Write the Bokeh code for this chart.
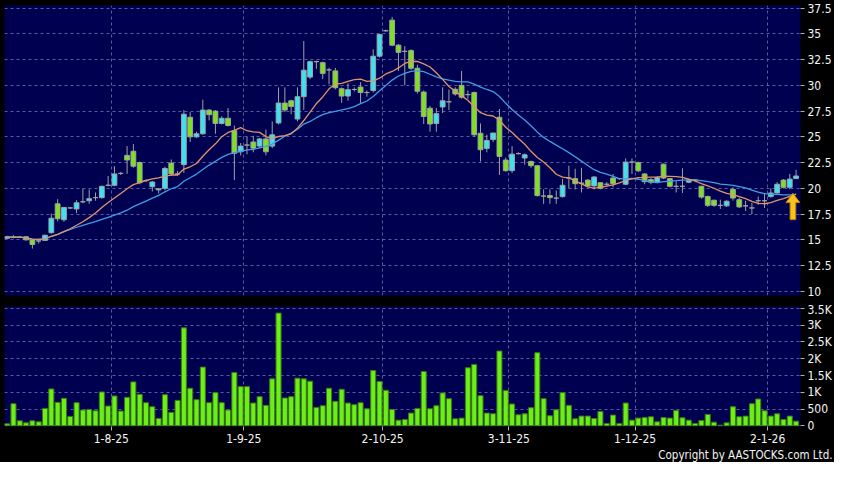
import pandas as pd
from bokeh.plotting import figure
from bokeh.layouts import column
from bokeh.models import FixedTicker, Range1d, ColumnDataSource, Title
from bokeh.embed import file_html
from bokeh.resources import INLINE

# ---- data ----
opens = [15.15, 15.25, 15.25, 15.30, 15.00, 14.90, 14.95, 15.70, 18.50, 16.95,
         18.10, 18.00, 18.70, 18.80, 19.10, 19.10, 20.30, 20.30, 21.45, 23.20,
         23.60, 22.50, 20.75, 20.16, 19.85, 20.00, 22.45, 21.40, 22.30, 26.90,
         25.00, 25.30, 27.60, 27.50, 26.30, 26.80, 25.60, 23.55, 24.20, 24.50,
         24.10, 24.80, 24.10, 26.35, 28.28, 28.50, 26.73, 28.90, 30.80, 32.30,
         32.20, 31.50, 31.40, 29.67, 28.96, 29.60, 29.83, 29.30, 29.50, 32.83,
         35.30, 36.33, 33.90, 33.30, 33.37, 31.66, 29.35, 27.78, 26.30, 27.90,
         28.40, 29.62, 30.00, 29.10, 29.30, 25.35, 23.88, 24.74, 26.90, 22.75,
         21.72, 23.37, 22.95, 22.60, 22.20, 19.25, 19.30, 19.05, 19.20, 21.00,
         20.95, 20.50, 20.80, 20.24, 20.55, 20.40, 21.00, 20.95, 20.40, 22.55,
         22.50, 21.40, 20.85, 20.62, 22.35, 20.95, 20.20, 20.20, 20.60, 20.80,
         20.20, 19.20, 18.85, 18.35, 18.30, 19.90, 18.90, 18.30, 18.10, 18.80,
         18.80, 19.20, 19.55, 20.80, 20.10, 20.95]
highs = [15.40, 15.45, 15.35, 15.35, 15.00, 15.10, 15.50, 17.55, 18.95, 18.20,
         18.20, 18.85, 19.95, 19.90, 19.60, 20.25, 21.20, 22.15, 21.60, 24.10,
         24.30, 22.60, 20.85, 20.70, 20.00, 22.10, 22.80, 21.70, 27.60, 27.40,
         25.50, 28.60, 27.70, 27.60, 27.00, 27.80, 26.10, 24.40, 25.00, 25.10,
         24.90, 25.70, 26.50, 29.80, 29.80, 28.60, 29.80, 34.30, 32.40, 32.40,
         32.30, 31.70, 31.70, 29.80, 30.20, 29.80, 30.30, 29.50, 33.50, 35.00,
         35.40, 36.64, 34.00, 33.80, 33.50, 32.00, 29.50, 28.00, 27.80, 29.80,
         29.60, 29.80, 31.40, 29.50, 29.40, 26.30, 25.20, 25.40, 27.70, 23.00,
         24.10, 23.50, 23.40, 22.70, 22.20, 19.90, 19.90, 19.80, 20.90, 22.20,
         21.90, 22.00, 20.90, 21.20, 20.60, 20.60, 21.40, 21.00, 22.90, 22.90,
         22.60, 21.50, 21.00, 21.20, 22.40, 21.00, 20.70, 21.95, 20.90, 20.90,
         20.25, 19.30, 18.90, 18.90, 18.85, 20.10, 19.10, 18.80, 18.60, 19.20,
         19.50, 20.00, 20.60, 20.90, 21.40, 21.80]
lows = [15.10, 15.15, 15.20, 14.95, 14.15, 14.65, 14.90, 15.60, 16.80, 16.75,
        18.00, 17.60, 18.55, 18.50, 18.80, 19.00, 20.20, 20.20, 21.30, 21.40,
        22.00, 20.40, 20.60, 19.70, 19.50, 19.80, 21.20, 21.25, 21.50, 24.50,
        24.90, 25.20, 26.60, 25.30, 26.20, 26.00, 20.80, 23.20, 23.30, 23.50,
        23.90, 23.20, 23.90, 26.20, 27.40, 27.20, 26.50, 27.60, 30.60, 31.60,
        30.60, 30.10, 29.60, 28.30, 28.50, 29.40, 28.30, 28.90, 29.30, 32.70,
        35.20, 33.80, 31.40, 30.00, 31.50, 29.20, 26.25, 25.50, 25.50, 27.30,
        27.60, 29.00, 28.70, 28.70, 25.00, 22.60, 23.50, 24.50, 21.30, 21.60,
        21.50, 23.30, 22.30, 22.00, 19.20, 18.50, 18.50, 18.50, 19.10, 20.00,
        19.90, 19.60, 20.10, 19.90, 19.90, 20.20, 20.10, 20.80, 20.30, 21.40,
        21.60, 20.40, 20.40, 20.50, 20.90, 20.10, 19.60, 19.55, 20.50, 20.60,
        19.00, 18.20, 18.20, 18.00, 18.20, 18.80, 18.10, 17.80, 17.50, 18.40,
        18.10, 19.10, 19.50, 20.00, 19.90, 20.90]
closes = [15.30, 15.25, 15.25, 15.00, 14.55, 14.90, 15.45, 17.10, 17.05, 18.15,
          18.10, 18.60, 18.70, 19.00, 19.10, 20.20, 20.30, 21.40, 21.45, 22.75,
          22.15, 20.55, 20.75, 20.62, 19.95, 21.93, 21.40, 21.40, 27.20, 25.00,
          25.30, 27.60, 27.15, 26.30, 26.80, 26.10, 23.40, 24.10, 24.20, 23.90,
          24.80, 23.55, 25.20, 28.28, 27.60, 27.95, 28.90, 31.47, 32.30, 32.30,
          31.16, 31.50, 29.77, 28.96, 29.58, 29.60, 29.30, 29.30, 32.83, 34.94,
          35.30, 33.90, 33.20, 33.30, 31.66, 29.43, 26.98, 26.25, 27.25, 28.50,
          28.40, 29.16, 28.85, 29.10, 25.20, 23.75, 24.65, 25.37, 23.10, 21.72,
          23.32, 23.37, 23.26, 22.20, 19.30, 19.25, 19.10, 19.05, 20.30, 21.00,
          20.45, 20.50, 20.24, 21.10, 20.00, 20.40, 20.45, 20.95, 22.55, 22.55,
          21.70, 20.65, 20.60, 21.05, 21.00, 20.20, 20.20, 20.20, 20.80, 20.80,
          19.15, 18.35, 18.35, 18.35, 18.75, 19.06, 18.20, 18.30, 18.10, 18.80,
          18.80, 19.55, 20.40, 20.10, 20.90, 21.20]
volumes = [60, 660, 150, 90, 150, 120, 520, 1100, 700, 820,
           280, 690, 470, 490, 450, 1010, 590, 890, 440, 850,
           1310, 940, 690, 570, 220, 930, 400, 760, 2920, 1120,
           780, 1750, 690, 990, 690, 470, 1590, 1170, 1170, 680,
           870, 610, 1400, 3360, 830, 870, 1420, 1400, 1330, 550,
           600, 1120, 730, 1090, 680, 630, 690, 510, 1650, 1320,
           1060, 490, 170, 190, 380, 520, 1620, 510, 600, 980,
           810, 210, 230, 1730, 1830, 900, 380, 360, 2230, 1050,
           650, 330, 360, 540, 2180, 810, 300, 480, 990, 610,
           210, 290, 290, 220, 430, 70, 320, 70, 680, 170,
           230, 250, 270, 120, 250, 230, 460, 240, 170, 70,
           160, 340, 110, 20, 90, 570, 270, 290, 660, 800,
           450, 290, 360, 190, 290, 140]

tick_labels = ["1-8-25", "1-9-25", "2-10-25", "3-11-25", "1-12-25", "2-1-26"]
month_start_idx = [17, 38, 60, 80, 100, 121]
price_ticks = [10, 12.5, 15, 17.5, 20, 22.5, 25, 27.5, 30, 32.5, 35, 37.5]
price_labels = ["10", "12.5", "15", "17.5", "20", "22.5", "25", "27.5", "30", "32.5", "35", "37.5"]
vol_ticks = [0, 500, 1000, 1500, 2000, 2500, 3000, 3500]
vol_labels = ["0", "500", "1K", "1.5K", "2K", "2.5K", "3K", "3.5K"]

# ---- styling ----
BG = "#000050"
CYAN = "#40e0f0"
GREEN = "#80e020"
DOJI = "#a0a0a0"
VOLG = "#6cee18"
GRID = "#6464a8"
FONT = "DejaVu Sans Condensed"

n = len(closes)
idx = list(range(n))
body_col = [CYAN if c > o else (GREEN if c < o else DOJI) for o, c in zip(opens, closes)]
src = ColumnDataSource(dict(
    x=idx, o=opens, h=highs, l=lows, c=closes,
    top=[max(o, c) for o, c in zip(opens, closes)],
    bot=[min(o, c) for o, c in zip(opens, closes)],
    col=body_col, v=volumes,
))
ma10 = pd.Series(closes).rolling(10, min_periods=1).mean().tolist()
ma20 = pd.Series(closes).rolling(20, min_periods=1).mean().tolist()

grid_ticks = [s - 0.5 for s in month_start_idx]
xr = Range1d(-0.42, n - 0.3)


def style(p):
    p.background_fill_color = BG
    p.border_fill_color = "black"
    p.outline_line_color = None
    for g in (p.xgrid, p.ygrid):
        g.grid_line_color = GRID
        g.grid_line_dash = "3 3"
        g.grid_line_alpha = 0.9
    p.xgrid.ticker = FixedTicker(ticks=grid_ticks)


# ---- price panel ----
p1 = figure(frame_width=796, frame_height=290, x_range=xr, y_range=Range1d(9.6, 37.75),
            x_axis_location=None, y_axis_location="right", output_backend="svg",
            toolbar_location=None, min_border_left=4, min_border_top=5,
            min_border_bottom=7, min_border_right=34)
style(p1)
p1.ygrid.ticker = FixedTicker(ticks=price_ticks)
ya = p1.yaxis[0]
ya.ticker = FixedTicker(ticks=price_ticks)
ya.major_label_overrides = dict(zip(price_ticks, price_labels))

p1.segment(x0="x", x1="x", y0="l", y1="h", source=src, line_color=DOJI, line_width=1)
p1.vbar(x="x", top="top", bottom="bot", width=0.76, source=src,
        fill_color="col", line_color="#9aa4a4", line_width=1)
p1.line(idx, ma20, line_color="#3f9ee6", line_width=1.3)
p1.line(idx, ma10, line_color="#e3936a", line_width=1.3)

# signal arrow under the last bars
xc = n - 1.5
tip = ma20[-1] + 0.1
p1.patch([xc, xc + 1.1, xc + 0.45, xc + 0.45, xc - 0.45, xc - 0.45, xc - 1.1],
         [tip, tip - 0.9, tip - 0.9, tip - 2.55, tip - 2.55, tip - 0.9, tip - 0.9],
         fill_color="#f7c21c", line_color="#c98400", line_width=1)

# ---- volume panel ----
p2 = figure(frame_width=796, frame_height=120, x_range=xr, y_range=Range1d(-20, 3557),
            x_axis_location="below", y_axis_location="right", output_backend="svg",
            toolbar_location=None, min_border_left=4, min_border_top=4,
            min_border_right=34, min_border_bottom=0)
style(p2)
p2.ygrid.ticker = FixedTicker(ticks=vol_ticks)
p2.vbar(x="x", top="v", bottom=0, width=0.8, source=src,
        fill_color=VOLG, line_color="#3a7a12", line_width=1)
va = p2.yaxis[0]
va.ticker = FixedTicker(ticks=vol_ticks)
va.major_label_overrides = dict(zip(vol_ticks, vol_labels))
xa = p2.xaxis[0]
xa.ticker = FixedTicker(ticks=grid_ticks)
xa.major_label_overrides = dict(zip(grid_ticks, tick_labels))

for ax in (ya, va, xa):
    ax.axis_line_color = None
    ax.major_tick_line_color = "#b0b0b0"
    ax.major_tick_out = 4
    ax.major_tick_in = 0
    ax.minor_tick_line_color = None
    ax.major_label_text_color = "#f4f4f4"
    ax.major_label_text_font = FONT
    ax.major_label_text_font_size = "12px"
    ax.major_label_standoff = 3

p2.add_layout(Title(text="Copyright by AASTOCKS.com Ltd.", align="right", offset=-32,
                    text_color="#f4f4f4", text_font=FONT, text_font_size="11.5px",
                    text_font_style="normal", standoff=1), "below")

layout = column(p1, p2, spacing=0, styles={"background-color": "black"})
open("out.html", "w").write(file_html(layout, INLINE))
